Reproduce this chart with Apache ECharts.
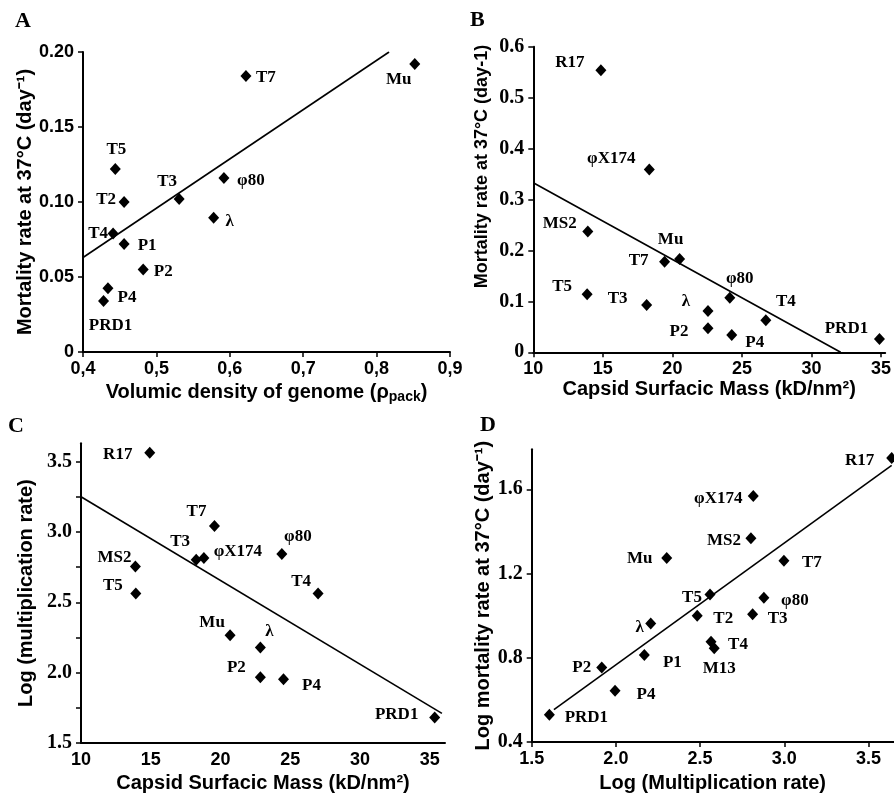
<!DOCTYPE html>
<html>
<head>
<meta charset="utf-8">
<script src="https://cdn.jsdelivr.net/npm/echarts@6/dist/echarts.min.js"></script>
<style>
html,body{margin:0;padding:0;background:#fff;}
#chart{width:894px;height:794px;}
</style>
</head>
<body>
<div id="chart"></div>
<script>
// ---------- DATA ----------
// Panel A: Volumic density of genome vs mortality rate
var namesA = ['T7','Mu','T5','\u03C680','T3','T2','\u03BB','T4','P1','P2','P4','PRD1'];
var xA = [0.622,0.852,0.444,0.592,0.531,0.456,0.578,0.441,0.456,0.482,0.434,0.428];
var yA = [0.184,0.192,0.122,0.116,0.102,0.100,0.0895,0.079,0.072,0.055,0.0425,0.034];
var fitAx = [0.4, 0.817];
var fitAy = [0.063, 0.200];
var ticksAx = [0.4,0.5,0.6,0.7,0.8,0.9];
var ticksAy = [0,0.05,0.10,0.15,0.20];

// Panel B: Capsid surfacic mass vs mortality rate
var namesB = ['R17','\u03C6X174','MS2','Mu','T7','T5','\u03C680','T3','\u03BB','T4','P2','P4','PRD1'];
var xB = [14.86,18.34,13.92,20.52,19.44,13.87,24.13,18.15,22.56,26.72,22.56,24.27,34.89];
var yB = [0.554,0.359,0.237,0.183,0.178,0.114,0.107,0.093,0.081,0.063,0.047,0.034,0.026];
var fitBx = [10, 32.1];
var fitBy = [0.333, 0];
var ticksBx = [10,15,20,25,30,35];
var ticksBy = [0,0.1,0.2,0.3,0.4,0.5,0.6];

// Panel C: Capsid surfacic mass vs log multiplication rate
var namesC = ['R17','T7','T3','\u03C6X174','\u03C680','MS2','T5','T4','Mu','\u03BB','P2','P4','PRD1'];
var xC = [14.93,19.57,18.26,18.81,24.4,13.9,13.93,27.0,20.69,22.86,22.86,24.52,35.36];
var yC = [3.563,3.042,2.803,2.815,2.843,2.754,2.563,2.563,2.265,2.178,1.967,1.953,1.681];
var fitCx = [10, 35.88];
var fitCy = [3.25, 1.711];
var ticksCx = [10,15,20,25,30,35];
var labelsCy = [1.5,2.0,2.5,3.0,3.5];
var ticksCy = [1.5,1.75,2.0,2.25,2.5,2.75,3.0,3.25,3.5];

// Panel D: Log multiplication rate vs log mortality rate
var namesD = ['R17','\u03C6X174','MS2','Mu','T7','T5','\u03C680','T2','T3','\u03BB','T4','M13','P1','P2','P4','PRD1'];
var xD = [3.638,2.816,2.802,2.302,2.998,2.559,2.879,2.483,2.812,2.207,2.565,2.584,2.169,1.916,1.995,1.605];
var yD = [1.749,1.568,1.368,1.274,1.261,1.101,1.085,0.999,1.007,0.963,0.876,0.845,0.813,0.754,0.643,0.530];
var fitDx = [1.632, 3.638];
var fitDy = [0.554, 1.714];
var ticksDx = [1.5,2.0,2.5,3.0,3.5];
var ticksDy = [0.4,0.8,1.2,1.6];

// ---------- STYLE / LAYOUT ----------
var offA = [[20,2],[-16,16],[1,-19],[27,3],[-12,-17],[-18,-2],[16,4],[-15,0],[23,2],[20,2],[19,9],[7,25]];
var offB = [[-31,-8],[-38,-11],[-28,-8],[-9,-19],[-26,-1],[-25,-8],[10,-19],[-29,-6],[-22,-9],[20,-19],[-29,3],[23,8],[-33,-10]];
var offC = [[-32,2],[-18,-14],[-16,-18],[34,-6],[16,-17],[-21,-9],[-23,-8],[-17,-12],[-18,-13],[9,-16],[-24,-10],[28,6],[-38,-3]];
var offD = [[-32,3],[-35,3],[-27,2],[-27,1],[28,2],[-18,3],[31,3],[26,3],[25,4],[-11,4],[27,3],[5,20],[28,8],[-20,0],[31,4],[37,3]];

var SANS = 'Liberation Sans, Arial, sans-serif';
var SERIF = 'Liberation Serif, Times New Roman, serif';

function pts(xs, ys, offs) {
  return xs.map(function (x, i) {
    return { value: [x, ys[i]], label: { offset: offs[i] } };
  });
}
function fit(xs, ys) {
  return xs.map(function (x, i) { return [x, ys[i]]; });
}
function scatter(idx, xs, ys, names, offs) {
  return {
    type: 'scatter', xAxisIndex: idx, yAxisIndex: idx,
    symbol: 'diamond', symbolSize: [11, 12], clip: false,
    itemStyle: { color: '#000', opacity: 1 },
    label: {
      show: true, position: 'inside', color: '#000', opacity: 1,
      fontFamily: SERIF, fontWeight: 'bold', fontSize: 17,
      formatter: function (p) { return names[p.dataIndex]; }
    },
    emphasis: { disabled: true },
    data: pts(xs, ys, offs), z: 3
  };
}
function line(idx, xs, ys) {
  return {
    type: 'line', xAxisIndex: idx, yAxisIndex: idx,
    symbol: 'none', silent: true,
    lineStyle: { color: '#000', width: 1.6 },
    data: fit(xs, ys), z: 2
  };
}
function axisBase() {
  return {
    type: 'value',
    axisLine: { show: true, onZero: false, lineStyle: { color: '#000', width: 2 } },
    axisTick: { show: true, length: 5, lineStyle: { color: '#000', width: 1.5 } },
    splitLine: { show: false },
    nameTextStyle: { fontFamily: SANS, fontWeight: 'bold', fontSize: 20, color: '#000' }
  };
}
function xAx(idx, min, max, ticks, labels, fmt, name, gap, showTicks) {
  var a = axisBase();
  a.gridIndex = idx; a.min = min; a.max = max;
  a.axisTick.customValues = ticks; a.axisTick.show = showTicks;
  a.axisLabel = { customValues: labels, margin: 8, color: '#000', fontFamily: SANS, fontWeight: 'bold', fontSize: 18, formatter: fmt };
  a.name = name; a.nameLocation = 'middle'; a.nameGap = gap;
  return a;
}
function yAx(idx, min, max, ticks, labels, fmt, font, size, name, gap) {
  var a = axisBase();
  a.gridIndex = idx; a.min = min; a.max = max;
  a.axisTick.customValues = ticks;
  a.axisLabel = { customValues: labels, margin: 9, color: '#000', fontFamily: font, fontWeight: 'bold', fontSize: size, formatter: fmt };
  a.name = name; a.nameLocation = 'middle'; a.nameGap = gap;
  return a;
}

var xAxA = xAx(0, 0.4, 0.9, ticksAx, ticksAx, function (v) { return v.toFixed(1).replace('.', ','); },
  '{t|Volumic density of genome (\u03C1}{s|pack}{t|)}', 29, true);
xAxA.nameTextStyle.rich = {
  t: { fontFamily: SANS, fontWeight: 'bold', fontSize: 20, color: '#000' },
  s: { fontFamily: SANS, fontWeight: 'bold', fontSize: 14, color: '#000', padding: [9, 0, 0, 0] }
};
var yAxA = yAx(0, 0, 0.2, ticksAy, ticksAy, function (v) { return v === 0 ? '0' : v.toFixed(2); }, SANS, 18,
  'Mortality rate at 37\u00B0C (day\u207B\u00B9)', 47);

var xAxB = xAx(1, 10, 35.3, ticksBx, ticksBx, function (v) { return String(v); },
  'Capsid Surfacic Mass (kD/nm\u00B2)', 25, true);
var yAxB = yAx(1, 0, 0.6, ticksBy, ticksBy, function (v) { return v === 0 ? '0' : v.toFixed(1); }, SERIF, 20,
  'Mortality rate at 37\u00B0C (day-1)', 42);
yAxB.nameTextStyle.fontSize = 18;
yAxB.nameTextStyle.padding = [0, 0, 0, 66];

var xAxC = xAx(2, 10, 36.1, ticksCx, ticksCx, function (v) { return String(v); },
  'Capsid Surfacic Mass (kD/nm\u00B2)', 30, false);
var yAxC = yAx(2, 1.5, 3.63, ticksCy, labelsCy, function (v) { return v.toFixed(1); }, SERIF, 20,
  'Log (multiplication rate)', 45);

var xAxD = xAx(3, 1.5, 3.65, ticksDx, ticksDx, function (v) { return v.toFixed(1); },
  'Log (Multiplication rate)', 31, true);
var yAxD = yAx(3, 0.4, 1.79, ticksDy, ticksDy, function (v) { return v.toFixed(1); }, SERIF, 20,
  'Log mortality rate at 37\u00B0C (day\u207B\u00B9)', 35);

var option = {
  animation: false,
  backgroundColor: '#fff',
  grid: [
    { left: 83, top: 52, width: 367, height: 300 },
    { left: 533.3, top: 46.7, width: 359.3, height: 305.6 },
    { left: 81, top: 443.3, width: 364, height: 301.7 },
    { left: 531.7, top: 449.3, width: 362, height: 295 }
  ],
  xAxis: [xAxA, xAxB, xAxC, xAxD],
  yAxis: [yAxA, yAxB, yAxC, yAxD],
  graphic: [
    { type: 'text', left: 15, top: 10, style: { text: 'A', font: 'bold 22px ' + SERIF, fill: '#000' } },
    { type: 'text', left: 470, top: 9, style: { text: 'B', font: 'bold 22px ' + SERIF, fill: '#000' } },
    { type: 'text', left: 8, top: 415, style: { text: 'C', font: 'bold 22px ' + SERIF, fill: '#000' } },
    { type: 'text', left: 480, top: 414, style: { text: 'D', font: 'bold 22px ' + SERIF, fill: '#000' } }
  ],
  series: [
    line(0, fitAx, fitAy), scatter(0, xA, yA, namesA, offA),
    line(1, fitBx, fitBy), scatter(1, xB, yB, namesB, offB),
    line(2, fitCx, fitCy), scatter(2, xC, yC, namesC, offC),
    line(3, fitDx, fitDy), scatter(3, xD, yD, namesD, offD)
  ]
};
var chart = echarts.init(document.getElementById('chart'), null, { renderer: 'canvas' });
chart.setOption(option);
</script>
</body>
</html>
